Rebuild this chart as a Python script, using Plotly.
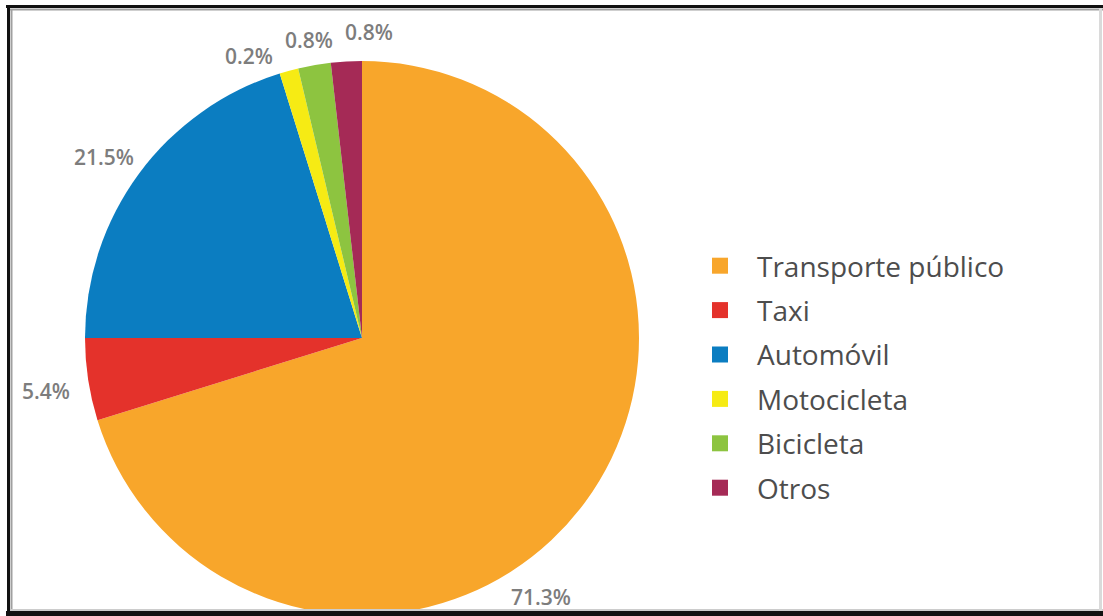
import plotly.graph_objects as go

W, H = 1103, 616

# ---- data ----
categories = ["Transporte público", "Taxi", "Automóvil", "Motocicleta", "Bicicleta", "Otros"]
slice_sizes = [70.2, 4.8, 20.2, 1.1, 1.9, 1.8]          # as drawn in the picture (percent of circle)
pct_labels = ["71.3%", "5.4%", "21.5%", "0.2%", "0.8%", "0.8%"]  # printed labels
colors = ["#F8A62B", "#E4322B", "#0B7DC1", "#F6EB14", "#8DC440", "#A52A56"]

# label anchor positions in pixels (layout only)
label_px = [(541, 597), (46, 391), (104, 157), (249, 56), (309, 40), (369, 32)]


def px_x(x):
    return x / W


def px_y(y):
    return 1 - y / H


fig = go.Figure()

fig.add_trace(go.Pie(
    labels=categories,
    values=slice_sizes,
    sort=False,
    direction="clockwise",
    rotation=0,
    marker=dict(colors=colors, line=dict(width=0)),
    textinfo="none",
    hoverinfo="label+percent",
    showlegend=False,
    domain=dict(x=[px_x(85), px_x(639)], y=[px_y(615), px_y(61)]),
))

# legend entries
for i, (cat, col) in enumerate(zip(categories, colors)):
    fig.add_trace(go.Scatter(
        x=[None], y=[None], mode="markers", name=cat,
        legendgroup=f"g{i}",
        marker=dict(symbol="square", size=20, color=col),
        showlegend=True,
    ))

# percentage labels
for txt, (lx, ly) in zip(pct_labels, label_px):
    fig.add_annotation(
        x=px_x(lx), y=px_y(ly), xref="paper", yref="paper",
        text=txt, showarrow=False, xanchor="center", yanchor="middle",
        font=dict(family="Open Sans", size=21, color="#7d7d7d", weight=600),
    )

# frame
frame = [
    # top
    dict(x0=6, y0=6.5, x1=W, y1=6.5, color="#111111", width=3),
    # left
    dict(x0=8.5, y0=5, x1=8.5, y1=H, color="#111111", width=3),
    # bottom
    dict(x0=6, y0=613.5, x1=W, y1=613.5, color="#111111", width=5),
    # inner grey
    dict(x0=10, y0=9.5, x1=W, y1=9.5, color="#a0a0a0", width=2),
    dict(x0=11.5, y0=9, x1=11.5, y1=611, color="#a0a0a0", width=2),
    dict(x0=10, y0=610, x1=W, y1=610, color="#cccccc", width=2),
    # right grey
    dict(x0=1100.5, y0=8, x1=1100.5, y1=611, color="#dadada", width=3),
]
for f in frame:
    fig.add_shape(type="line", xref="paper", yref="paper",
                  x0=px_x(f["x0"]), x1=px_x(f["x1"]), y0=px_y(f["y0"]), y1=px_y(f["y1"]),
                  line=dict(color=f["color"], width=f["width"]), layer="above")

fig.update_layout(
    width=W, height=H,
    margin=dict(l=0, r=0, t=0, b=0),
    paper_bgcolor="white",
    plot_bgcolor="white",
    xaxis=dict(visible=False),
    yaxis=dict(visible=False),
    legend=dict(
        x=px_x(683), y=px_y(377), xanchor="left", yanchor="middle",
        font=dict(family="Open Sans", size=28, color="#4d4d4d"),
        tracegroupgap=5,
        traceorder="grouped",
        itemwidth=64,
        itemclick=False, itemdoubleclick=False,
        bgcolor="rgba(0,0,0,0)",
    ),
)

fig.write_html("out.html")
